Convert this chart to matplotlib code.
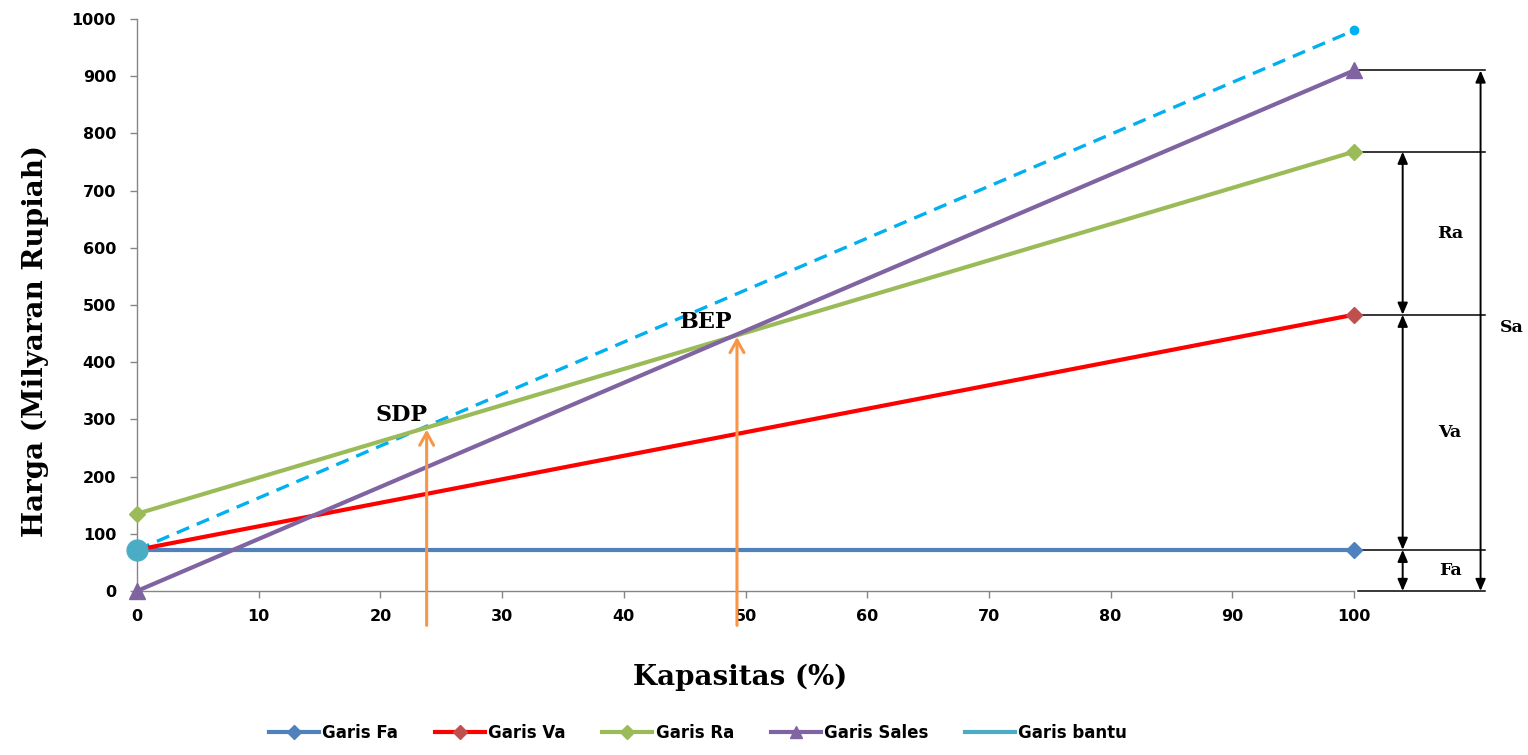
import matplotlib.pyplot as plt
from matplotlib.lines import Line2D

# data
kapasitas = [0, 100]
garis_fa = [72, 72]
garis_va = [72, 483]
garis_ra = [135, 768]
garis_sales = [0, 910]
garis_bantu = [72, 980]

sdp_x, sdp_y = 23.8, 287
bep_x, bep_y = 49.3, 449
arrow_start = -65

x_ticks = list(range(0, 101, 10))
y_ticks = list(range(0, 1001, 100))

c_fa = '#4F81BD'
c_va_line = '#FF0000'
c_va_mk = '#C0504D'
c_ra = '#9BBB59'
c_sales = '#8064A2'
c_bantu = '#00B0F0'
c_bantu_mk = '#4BACC6'
c_orange = '#F79646'

serif = ['DejaVu Serif']
sans = ['DejaVu Sans']

fig = plt.figure(figsize=(15.28, 7.55), dpi=100)
ax = fig.add_axes([137 / 1528, 1 - 591 / 755, (1354 - 137) / 1528, (591 - 19) / 755])

lw = 3.0
ax.plot(kapasitas, garis_bantu, color=c_bantu, lw=2.4, ls=(0, (4, 2.5)), clip_on=False, zorder=2)
ax.plot(kapasitas[1:], garis_bantu[1:], 'o', color=c_bantu, ms=6, clip_on=False, zorder=6)
ax.plot(kapasitas, garis_fa, color=c_fa, lw=lw, marker='D', ms=8, clip_on=False, zorder=3)
ax.plot(kapasitas, garis_va, color=c_va_line, lw=lw, marker='D', ms=8, mfc=c_va_mk, mec=c_va_mk,
        clip_on=False, zorder=3)
ax.plot(kapasitas, garis_ra, color=c_ra, lw=lw, marker='D', ms=8, clip_on=False, zorder=3)
ax.plot(kapasitas, garis_sales, color=c_sales, lw=lw, marker='^', ms=11, clip_on=False, zorder=4)
ax.plot(kapasitas[:1], garis_bantu[:1], 'o', color=c_bantu_mk, ms=15, clip_on=False, zorder=7)

# SDP / BEP arrows
for px, py in [(sdp_x, sdp_y), (bep_x, bep_y)]:
    ax.annotate('', xy=(px, py), xytext=(px, arrow_start),
                arrowprops=dict(arrowstyle='->,head_length=0.9,head_width=0.5', color=c_orange, lw=2.2),
                annotation_clip=False, zorder=8)
ax.text(sdp_x + 0.1, sdp_y + 2, 'SDP', ha='right', va='bottom', fontsize=16, fontweight='bold', family=serif)
ax.text(bep_x - 0.4, bep_y + 2, 'BEP', ha='right', va='bottom', fontsize=16, fontweight='bold', family=serif)

# right side dimension lines
x_end = 110.8
for yv in [garis_sales[1], garis_ra[1], garis_va[1], garis_fa[1], 0]:
    ax.plot([100.3, x_end], [yv, yv], color='black', lw=1.1, clip_on=False, zorder=1)

x_in = 104.0
x_out = 110.4
dims = [(garis_ra[1], garis_va[1], 'Ra'), (garis_va[1], garis_fa[1], 'Va'), (garis_fa[1], 0, 'Fa')]
for top, bot, lab in dims:
    ax.annotate('', xy=(x_in, top), xytext=(x_in, bot),
                arrowprops=dict(arrowstyle='<|-|>,head_length=0.7,head_width=0.3', color='black',
                                lw=1.4, shrinkA=0, shrinkB=0),
                annotation_clip=False)
    ax.text(107.9, (top + bot) / 2, lab, ha='center', va='center',
            fontsize=12.5, fontweight='bold', family=serif)
ax.annotate('', xy=(x_out, garis_sales[1]), xytext=(x_out, 0),
            arrowprops=dict(arrowstyle='<|-|>,head_length=0.7,head_width=0.3', color='black',
                            lw=1.4, shrinkA=0, shrinkB=0),
            annotation_clip=False)
ax.text(113.0, 460, 'Sa', ha='center', va='center', fontsize=12.5, fontweight='bold', family=serif)

ax.set_xlim(0, 100)
ax.set_ylim(0, 1000)
ax.set_xticks(x_ticks)
ax.set_yticks(y_ticks)
ax.spines['top'].set_visible(False)
ax.spines['right'].set_visible(False)
for s in ['left', 'bottom']:
    ax.spines[s].set_color('#868686')
    ax.spines[s].set_linewidth(1.0)
ax.tick_params(colors='#868686', length=5, width=1, labelcolor='black', labelsize=11.5)
for lbl in ax.get_xticklabels() + ax.get_yticklabels():
    lbl.set_fontweight('bold')
    lbl.set_family(sans)
ax.tick_params(axis='x', pad=8)
ax.tick_params(axis='y', pad=10)

fig.text(35 / 1528, 1 - 341 / 755, 'Harga (Milyaran Rupiah)', rotation=90, ha='center', va='center',
         fontsize=20, fontweight='bold', family=serif)
fig.text(740 / 1528, 1 - 677 / 755, 'Kapasitas (%)', ha='center', va='center',
         fontsize=20, fontweight='bold', family=serif)

handles = [
    Line2D([], [], color=c_fa, lw=3, marker='D', ms=7),
    Line2D([], [], color=c_va_line, lw=3, marker='D', ms=7, mfc=c_va_mk, mec=c_va_mk),
    Line2D([], [], color=c_ra, lw=3, marker='D', ms=7),
    Line2D([], [], color=c_sales, lw=3, marker='^', ms=9),
    Line2D([], [], color=c_bantu_mk, lw=3),
]
labels = ['Garis Fa', 'Garis Va', 'Garis Ra', 'Garis Sales', 'Garis bantu']
fig.legend(handles, labels, loc='center', bbox_to_anchor=(698 / 1528, 1 - 733 / 755), ncol=5,
           frameon=False, handlelength=3, columnspacing=2.2, handletextpad=0.2,
           prop={'family': sans, 'weight': 'bold', 'size': 12})

fig.savefig('out.png', dpi=100)
